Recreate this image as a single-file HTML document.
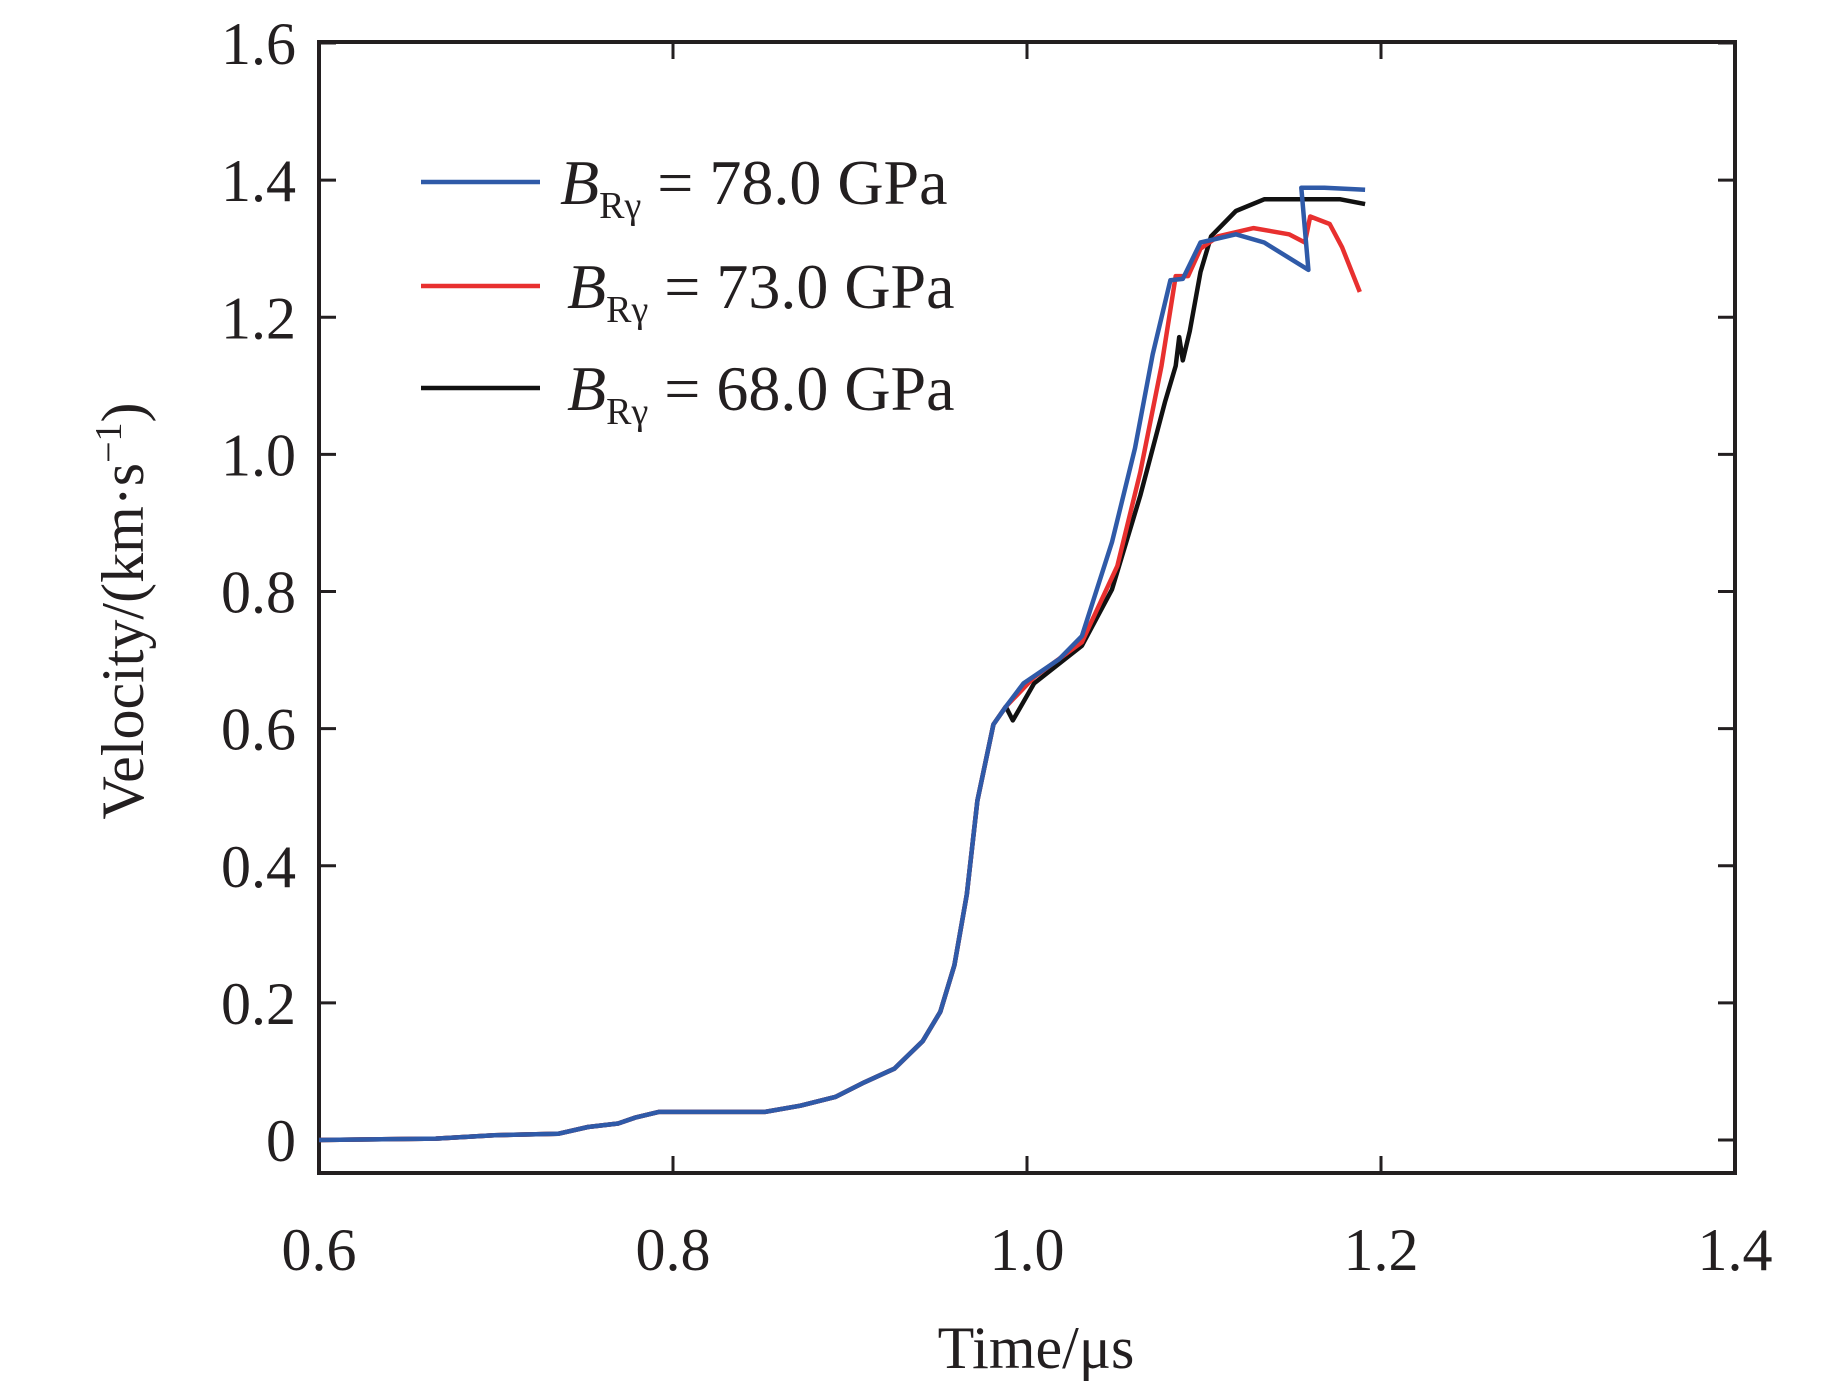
<!DOCTYPE html>
<html><head><meta charset="utf-8"><style>
body{margin:0;background:#fff}
svg text{font-family:"Liberation Serif",serif;fill:#231f20}
</style></head><body>
<svg width="1843" height="1382" viewBox="0 0 1843 1382">
<g id="plot"></g>
</svg>
<script>
const xTicks=[0.6,0.8,1.0,1.2,1.4];
const xTickLabels=["0.6","0.8","1.0","1.2","1.4"];
const yTicks=[0,0.2,0.4,0.6,0.8,1.0,1.2,1.4,1.6];
const yTickLabels=["0","0.2","0.4","0.6","0.8","1.0","1.2","1.4","1.6"];
const baseT=[0.6,0.666,0.699,0.735,0.752,0.769,0.779,0.792,0.852,0.872,0.892,0.908,0.925,0.941,0.951,0.959,0.966,0.972,0.981,0.988];
const baseV=[0,0.002,0.007,0.009,0.019,0.024,0.033,0.041,0.041,0.050,0.063,0.084,0.104,0.144,0.187,0.255,0.358,0.495,0.606,0.632];
const blueT=[0.998,1.018,1.031,1.048,1.061,1.071,1.081,1.088,1.098,1.118,1.134,1.159,1.155,1.168,1.191];
const blueV=[0.666,0.701,0.735,0.872,1.009,1.146,1.254,1.256,1.309,1.321,1.309,1.269,1.389,1.389,1.386];
const redT=[1.004,1.031,1.051,1.064,1.076,1.084,1.091,1.098,1.108,1.128,1.148,1.157,1.160,1.171,1.178,1.188];
const redV=[0.675,0.726,0.837,0.974,1.129,1.26,1.26,1.30,1.318,1.33,1.321,1.309,1.347,1.336,1.302,1.237];
const blackT=[0.992,1.004,1.031,1.048,1.064,1.078,1.084,1.086,1.088,1.092,1.098,1.104,1.118,1.134,1.157,1.177,1.191];
const blackV=[0.612,0.666,0.721,0.803,0.94,1.077,1.129,1.171,1.137,1.18,1.266,1.318,1.355,1.372,1.372,1.372,1.365];
const seriesNames=["B-78","B-73","B-68"];
const legendValues=["78.0","73.0","68.0"];

const X0=319,X1=1735,YB=1140,YT=43;
const sx=t=>X0+(t-0.6)/0.8*(X1-X0);
const sy=v=>YB-v/1.6*(YB-YT);
const NS="http://www.w3.org/2000/svg";
const g=document.getElementById('plot');
function mk(tag,attrs,parent){const e=document.createElementNS(NS,tag);for(const k in attrs)e.setAttribute(k,attrs[k]);(parent||g).appendChild(e);return e;}

const frame=mk('rect',{x:X0,y:42,width:X1-X0,height:1173-42,fill:'none',stroke:'#231f20','stroke-width':4});



xTicks.forEach((t,i)=>{
  const x=sx(t);
  const a=mk('line',{x1:x,y1:1173,x2:x,y2:1156,stroke:'#231f20','stroke-width':3});
  
  
  const b=mk('line',{x1:x,y1:42,x2:x,y2:59,stroke:'#231f20','stroke-width':3});
  
  
  const l=mk('text',{x:x,y:1270,'text-anchor':'middle','font-size':60});
  l.textContent=xTickLabels[i];
  
  
});
yTicks.forEach((v,i)=>{
  const y=sy(v);
  const a=mk('line',{x1:X0,y1:y,x2:X0+17,y2:y,stroke:'#231f20','stroke-width':3});
  
  
  const b=mk('line',{x1:X1,y1:y,x2:X1-17,y2:y,stroke:'#231f20','stroke-width':3});
  
  
  const l=mk('text',{x:296,y:y+21,'text-anchor':'end','font-size':60});
  l.textContent=yTickLabels[i];
  
  
});

const xt=mk('text',{x:1036,y:1368,'text-anchor':'middle','font-size':60});
xt.textContent='Time/μs';


const yt=mk('text',{x:0,y:0,'text-anchor':'middle','font-size':60,transform:'translate(143,611) rotate(-90)'});
yt.innerHTML='Velocity/(km·s<tspan dy="-22" font-size="38">−1</tspan><tspan dy="22">)</tspan>';



const colors=['#2f5aa8','#e8302f','#111111'];
const datasets=[[blueT,blueV],[redT,redV],[blackT,blackV]];
const order=[2,1,0];
order.forEach(i=>{
  const T=baseT.concat(datasets[i][0]),V=baseV.concat(datasets[i][1]);
  const d=T.map((t,k)=>(k?'L':'M')+sx(t).toFixed(1)+','+sy(V[k]).toFixed(1)).join('');
  const p=mk('path',{d:d,fill:'none',stroke:colors[i],'stroke-width':4.5,'stroke-linejoin':'round'});
  
  
});

const ly=[182,286,388];
legendValues.forEach((val,i)=>{
  const ln=mk('line',{x1:421,y1:ly[i],x2:540,y2:ly[i],stroke:colors[i],'stroke-width':4.5});
  
  
  const tx=mk('text',{x:i===0?560:567,y:ly[i]+22,'font-size':64});
  tx.innerHTML='<tspan font-style="italic">B</tspan><tspan font-size="38" dy="14">Rγ</tspan><tspan dy="-14"> = '+val+' GPa</tspan>';
  
  
});
</script>
</body></html>
